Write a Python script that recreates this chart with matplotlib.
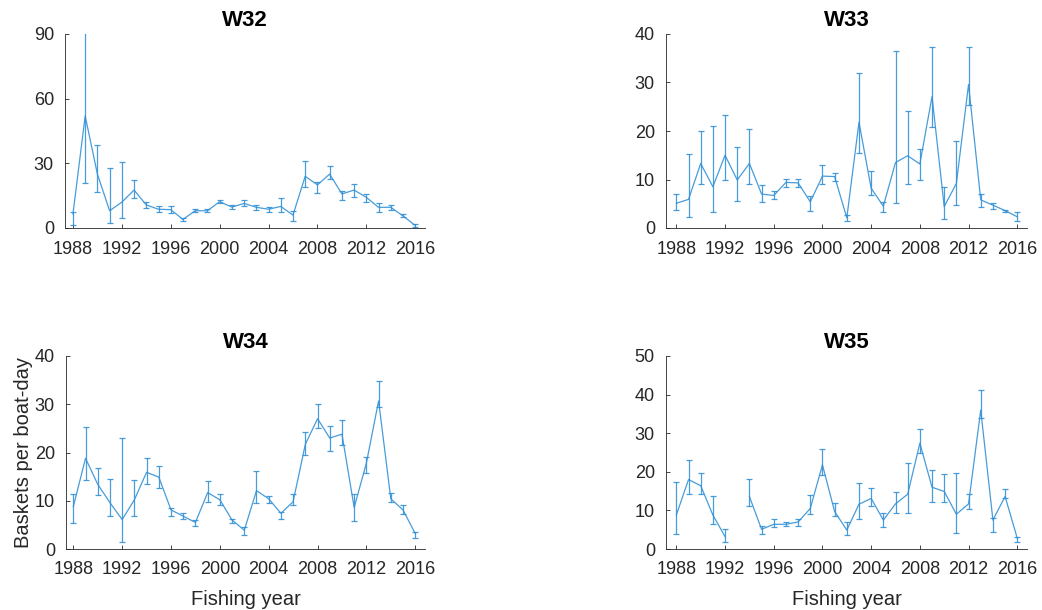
import numpy as np
import matplotlib
matplotlib.use("Agg")
import matplotlib.pyplot as plt

years = list(range(1988, 2017))

# W32: mean, lower, upper
w32_mean = [6.5, 52, 25, 8, 12, 17.6, 10.7, 8.7, 8.5, 4, 8, 8, 12.2, 9.7, 11.4, 9.6, 8.7, 10, 6, 24, 20, 25, 15.8, 17.6, 14.2, 9.6, 9.6, 5.6, 1.2]
w32_low = [1.5, 21, 16.7, 2.2, 4.6, 13.8, 9.1, 7.3, 7.0, 3.2, 7.4, 7.4, 11.4, 8.7, 10.0, 8.5, 7.3, 7.6, 3.4, 19, 16.2, 22.6, 13.1, 14.2, 12.2, 7.4, 8.5, 4.9, 0.6]
w32_up = [7.5, 120, 38.3, 27.8, 30.5, 22.3, 12.2, 10.4, 10.2, 4.8, 8.7, 8.7, 13.0, 10.7, 12.8, 10.7, 9.9, 13.9, 8.0, 31, 21.5, 28.9, 17.0, 20.3, 15.8, 11.7, 10.7, 6.3, 2.0]

# W33
w33_mean = [5.1, 5.9, 13.3, 8.5, 15, 9.9, 13.3, 7, 6.7, 9.4, 9.3, 5.4, 10.7, 10.6, 2.1, 21.8, 8.2, 4.5, 13.5, 14.9, 13.2, 27.1, 4.4, 9.2, 29.6, 5.8, 4.7, 3.6, 2.3]
w33_low = [3.7, 2.3, 9.1, 3.2, 10, 5.6, 9.1, 5.4, 6.0, 8.4, 8.4, 3.5, 9.1, 9.6, 1.4, 15.4, 6.9, 3.4, 5.1, 9.1, 9.9, 20.9, 1.8, 4.7, 25.3, 4.4, 3.9, 3.2, 1.4]
w33_up = [7.1, 15.3, 20.1, 21.1, 23.2, 16.6, 20.5, 8.9, 7.6, 10.2, 10.2, 6.5, 12.9, 11.4, 2.7, 32, 11.8, 5.3, 36.4, 24.1, 16.3, 37.3, 8.4, 17.9, 37.3, 7.0, 5.2, 3.8, 3.2]

# W34
w34_mean = [8.8, 18.8, 13.4, 9.6, 6.1, 10.2, 15.9, 14.9, 8.1, 6.8, 5.5, 11.7, 10.2, 6.0, 3.9, 12.1, 10.4, 7.4, 9.8, 21.7, 27, 23, 23.8, 8.6, 17.8, 30.7, 10.4, 8.1, 3.2]
w34_low = [5.3, 14.4, 11.2, 6.8, 1.4, 6.8, 13.5, 12.6, 6.8, 6.2, 4.8, 9.8, 9.1, 5.3, 2.8, 9.5, 9.5, 6.3, 9.1, 19.5, 25, 20.4, 21.6, 5.7, 15.8, 29.4, 9.8, 7.3, 2.3]
w34_up = [11.5, 25.3, 16.8, 14.6, 23.1, 14.3, 18.9, 17.1, 8.4, 7.4, 6.0, 14.0, 11.4, 6.3, 4.5, 16.2, 11.0, 7.7, 11.4, 24.2, 30, 25.5, 26.7, 11.3, 19.1, 34.8, 11.7, 9.1, 3.5]

# W35 (1993 missing)
nan = float("nan")
w35_mean = [8.8, 18, 16.4, 8.8, 3.2, nan, 13.6, 5.1, 6.4, 6.4, 7.0, 10.5, 21.8, 9.7, 4.9, 11.6, 13.1, 7.5, 11.7, 14.2, 27.4, 16, 14.9, 9, 11.7, 36, 7.5, 13.6, 2.8]
w35_low = [3.8, 14.2, 14.2, 6.5, 1.9, nan, 11.2, 3.8, 5.6, 6.0, 6.0, 9.0, 19.2, 8.5, 3.5, 7.9, 11.1, 5.8, 9.2, 9.2, 25, 12.1, 12.3, 4.1, 10.3, 34, 4.4, 13.1, 1.9]
w35_up = [17.4, 23.1, 19.8, 13.8, 5.1, nan, 18.2, 6.0, 7.7, 7.0, 7.9, 14.0, 26.0, 11.8, 7.1, 17.0, 15.7, 9.2, 14.8, 22.4, 31.0, 20.5, 19.4, 19.8, 14.3, 41.2, 8.1, 15.6, 3.2]

titles = ["W32", "W33", "W34", "W35"]
ylims = [90, 40, 40, 50]
yticks = [[0, 30, 60, 90], [0, 10, 20, 30, 40], [0, 10, 20, 30, 40], [0, 10, 20, 30, 40, 50]]
xticks = list(range(1988, 2017, 4))

series = [(w32_mean, w32_low, w32_up), (w33_mean, w33_low, w33_up),
          (w34_mean, w34_low, w34_up), (w35_mean, w35_low, w35_up)]

plt.rcParams['font.family'] = ['Liberation Sans', 'DejaVu Sans']
W, H = 1042, 610
fig = plt.figure(figsize=(W / 100, H / 100), dpi=100)

# axes boxes in pixels: left, right, top, bottom
boxes = [(65, 425, 34, 228), (666, 1027, 34, 228), (66, 425, 356, 549), (666, 1027, 356, 549)]
xl = [(1987.35, 2016.8), (1987.15, 2016.8), (1987.4, 2016.8), (1987.15, 2016.8)]

txt = '#262626'
blue = '#3491d6'

for i, (m, lo, up) in enumerate(series):
    l, r, t, b = boxes[i]
    ax = fig.add_axes([l / W, 1 - b / H, (r - l) / W, (b - t) / H])
    m = np.array(m, dtype=float)
    lo = np.array(lo, dtype=float)
    up = np.array(up, dtype=float)
    yerr = np.vstack([m - lo, up - m])
    ax.errorbar(years, m, yerr=yerr, color=blue, lw=0.9, elinewidth=0.9,
                capsize=2.2, capthick=0.9, alpha=0.9)
    ax.set_xlim(*xl[i])
    ax.set_ylim(0, ylims[i])
    ax.set_xticks(xticks)
    ax.set_yticks(yticks[i])
    for s in ['top', 'right']:
        ax.spines[s].set_visible(False)
    for s in ['left', 'bottom']:
        ax.spines[s].set_color(txt)
        ax.spines[s].set_linewidth(0.6)
    ax.tick_params(direction='in', length=3, width=0.6, colors=txt,
                   labelsize=13, labelcolor=txt)
    ax.tick_params(axis='x', pad=9)
    ax.tick_params(axis='y', pad=8)
    ax.set_title(titles[i], fontsize=16, fontweight='bold', color='black', pad=6)
    if i >= 2:
        ax.set_xlabel("Fishing year", fontsize=14.5, color=txt, labelpad=8)
    if i == 2:
        ax.set_ylabel("Baskets per boat-day", fontsize=14.5, color=txt, labelpad=1)

fig.savefig("out.png", dpi=100)
